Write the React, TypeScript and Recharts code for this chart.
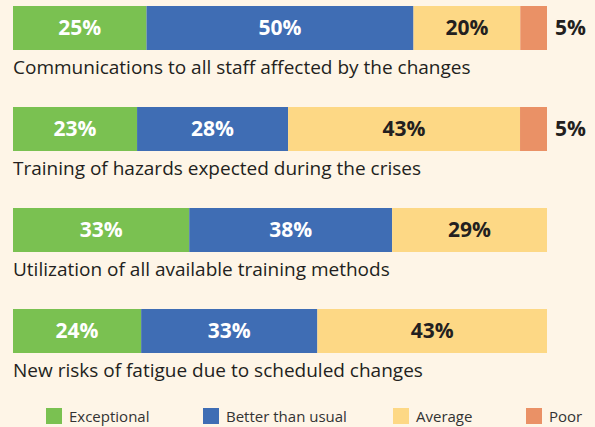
import { BarChart, Bar, XAxis, YAxis, LabelList, Legend } from 'recharts'

const categories = [
  'Communications to all staff affected by the changes',
  'Training of hazards expected during the crises',
  'Utilization of all available training methods',
  'New risks of fatigue due to scheduled changes',
]
const exceptional = [25, 23, 33, 24]
const betterThanUsual = [50, 28, 38, 33]
const average = [20, 43, 29, 43]
const poor = [5, 5, 0, 0]

const series = [
  { key: 'exceptional', name: 'Exceptional', color: '#7AC151', label: '#FFFFFF' },
  { key: 'better', name: 'Better than usual', color: '#3F6DB4', label: '#FFFFFF' },
  { key: 'average', name: 'Average', color: '#FDD885', label: '#231F20' },
  { key: 'poor', name: 'Poor', color: '#EA9166', label: '#231F20' },
]

const data = categories.map((name, i) => ({
  name,
  exceptional: exceptional[i],
  better: betterThanUsual[i],
  average: average[i],
  poor: poor[i],
}))

const font = '"Open Sans", sans-serif'
const fmt = (v: any) => (v ? `${v}%` : '')

// category name drawn under each bar
const CategoryLabel = (props: any) => {
  const { y, height, value } = props
  return (
    <text x={13} y={Number(y) + Number(height) / 2 + 46} fill="#231F20" fontSize={19} fontFamily={font} textAnchor="start">
      {value}
    </text>
  )
}

const legendX = [46, 203, 393, 526]

const LegendContent = () => (
  <div style={{ position: 'relative', height: 20, fontFamily: font }}>
    {series.map((s, i) => (
      <div key={s.key} style={{ position: 'absolute', left: legendX[i], top: 0, display: 'flex', alignItems: 'center' }}>
        <span style={{ width: 16, height: 16, background: s.color, display: 'inline-block' }} />
        <span style={{ marginLeft: 7, fontSize: 15, color: '#333' }}>{s.name}</span>
      </div>
    ))}
  </div>
)

export default function App() {
  return (
    <div style={{ position: 'absolute', left: 0, top: 0, width: 595, height: 427, background: '#FEF5E7', overflow: 'hidden' }}>
      <div style={{ position: 'absolute', left: 0, top: -23 }}>
        <BarChart
          width={595}
          height={451}
          data={data}
          layout="vertical"
          stackOffset="expand"
          barSize={44}
          margin={{ top: 0, right: 48, bottom: 27, left: 13 }}
        >
          <XAxis type="number" hide domain={[0, 1]} />
          <YAxis type="category" dataKey="name" hide />
          <Legend
            verticalAlign="bottom"
            content={<LegendContent />}
            wrapperStyle={{ left: 0, width: 595, bottom: 2 }}
          />
          {series.map((s, i) => (
            <Bar key={s.key} dataKey={s.key} name={s.name} stackId="a" fill={s.color} isAnimationActive={false}>
              <LabelList
                dataKey={s.key}
                position={s.key === 'poor' ? 'right' : 'center'}
                offset={8}
                formatter={fmt}
                fill={s.label}
                fontSize={21}
                fontWeight={700}
                fontFamily={font}
              />
              {i === 0 && <LabelList dataKey="name" content={<CategoryLabel />} />}
            </Bar>
          ))}
        </BarChart>
      </div>
    </div>
  )
}
